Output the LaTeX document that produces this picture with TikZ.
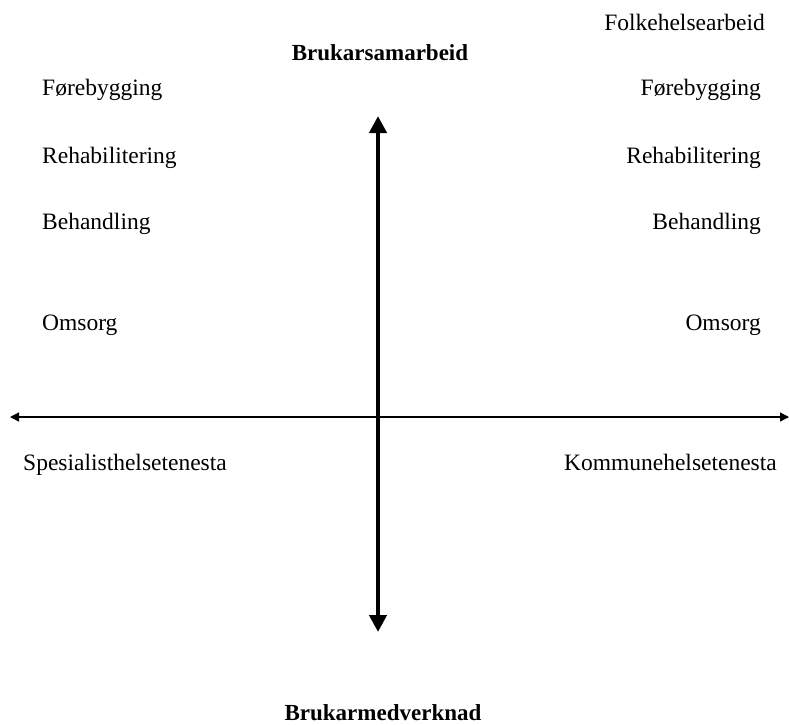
\documentclass[tikz,border=0pt]{standalone}
\usepackage{fontspec}
\setmainfont{Liberation Serif}
\usetikzlibrary{arrows.meta}
\begin{document}
\begin{tikzpicture}[x=1pt,y=-1pt,
  lbl/.style={font=\fontsize{23.5}{27}\selectfont, inner sep=0pt},
  lw/.style={lbl, anchor=base west},
  le/.style={lbl, anchor=base east},
  ttl/.style={font=\fontsize{23}{27}\selectfont\bfseries, inner sep=0pt, anchor=base},
  thickarrow/.style={line width=4.5pt, {Triangle[length=17pt,width=17pt]}-{Triangle[length=17pt,width=17pt]}},
  thinarrow/.style={line width=1.3pt, {Triangle[length=9pt,width=9pt]}-{Triangle[length=9pt,width=9pt]}}]
\useasboundingbox (0,0) rectangle (789,724);
\fill[white] (0,0) rectangle (789,724);

\node[le] (folk) at (765,30) {Folkehelsearbeid};
\node[ttl] (samarb) at (380,60) {Brukarsamarbeid};
\node[ttl] (medv) at (383,720) {Brukarmedverknad};

\node[lw] (lfore) at (42,95) {Førebygging};
\node[lw] (lrehab) at (42,163) {Rehabilitering};
\node[lw] (lbeh) at (42,229) {Behandling};
\node[lw] (loms) at (42,330) {Omsorg};
\node[lw] (spes) at (23,470) {Spesialisthelsetenesta};

\node[le] (rfore) at (761,95) {Førebygging};
\node[le] (rrehab) at (761,163) {Rehabilitering};
\node[le] (rbeh) at (761,229) {Behandling};
\node[le] (roms) at (761,330) {Omsorg};
\node[le] (komm) at (777,470) {Kommunehelsetenesta};

\coordinate (hl) at (10,417);
\coordinate (hr) at (789,417);
\coordinate (vt) at (378,116);
\coordinate (vb) at (378,632);
\draw[thinarrow] (hl) -- (hr);
\draw[thickarrow] (vt) -- (vb);
\end{tikzpicture}
\end{document}
